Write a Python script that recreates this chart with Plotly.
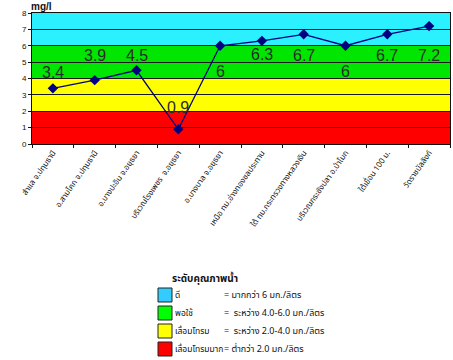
import plotly.graph_objects as go

stations = ["สำแล จ.ปทุมธานี", "อ.สามโคก จ.ปทุมธานี", "อ.บางปะอิน จ.อยุธยา",
            "บริเวณโรงเพชร  จ.อยุธยา", "อ.บางบาล จ.อยุธยา", "เหนือ ทม.อ่างทองชลประทาน",
            "ใต้ ทม.กระทรวงทางหลวงเงิน", "บริเวณกระชังปลา อ.ป่าโมก", "ใต้เขื่อน 100 ม.",
            "วัดราชบัลลังก์"]
do_values = [3.4, 3.9, 4.5, 0.9, 6, 6.3, 6.7, 6, 6.7, 7.2]
label_text = ["3.4", "3.9", "4.5", "0.9", "6", "6.3", "6.7", "6", "6.7", "7.2"]
label_shift = [16, 25, 15, 22, -26, -14, -21, -26, -21, -29]  # px, style only

band_edges = [0, 2, 4, 6, 8]
band_colors = ["#ff0000", "#ffff00", "#00e600", "#2af0ff"]

legend_title = "ระดับคุณภาพน้ำ"
legend_names = ["ดี", "พอใช้", "เสื่อมโทรม", "เสื่อมโทรมมาก"]
legend_desc = ["= มากกว่า 6 มก./ลิตร", "=  ระหว่าง 4.0-6.0 มก./ลิตร",
               "=  ระหว่าง 2.0-4.0 มก./ลิตร", "= ต่ำกว่า 2.0 มก./ลิตร"]
legend_colors = ["#33ccff", "#00ff00", "#ffff00", "#ff0000"]

W, H = 453, 360
PW, PH = 418.0, 131.0
L, T = 32.0, 13.0

fig = go.Figure()
fig.add_trace(go.Scatter(
    x=stations, y=do_values, mode="lines+markers",
    line=dict(color="#000080", width=1.3),
    marker=dict(symbol="diamond", size=8, color="#000080"),
    hoverinfo="skip", showlegend=False))

shapes = []
for i, c in enumerate(band_colors):
    shapes.append(dict(type="rect", xref="paper", yref="y", x0=0, x1=1,
                       y0=band_edges[i], y1=band_edges[i + 1],
                       fillcolor=c, line=dict(width=0), layer="below"))

annotations = []
for s, v, t, sh in zip(stations, do_values, label_text, label_shift):
    annotations.append(dict(x=s, y=v, text=t, showarrow=False, yshift=sh,
                            font=dict(family="Liberation Sans Narrow, Arial Narrow, Liberation Sans, sans-serif",
                                      size=16, color="#2a2a2a")))

def px(x):
    return (x - L) / PW
def py(y):
    return (T + PH - y) / PH

annotations.append(dict(xref="paper", yref="paper", x=px(41), y=py(6), xanchor="center",
                        yanchor="middle", text="<b>mg/l</b>", showarrow=False,
                        font=dict(family="Liberation Sans, Arial, sans-serif", size=10, color="#111")))

thai = "Noto Sans Thai, Tahoma, Noto Sans, sans-serif"
annotations.append(dict(xref="paper", yref="paper", x=px(170), y=py(279), xanchor="left",
                        yanchor="middle", text="<b>" + legend_title + "</b>", showarrow=False,
                        font=dict(family=thai, size=10, color="#111")))
row_y = [295, 313, 331, 349]
for name, desc, col, ry in zip(legend_names, legend_desc, legend_colors, row_y):
    shapes.append(dict(type="rect", xref="paper", yref="paper",
                       x0=px(158), x1=px(172), y0=py(ry + 7), y1=py(ry - 7),
                       fillcolor=col, line=dict(color="#222", width=1)))
    annotations.append(dict(xref="paper", yref="paper", x=px(173), y=py(ry), xanchor="left",
                            yanchor="middle", text=name, showarrow=False,
                            font=dict(family=thai, size=8.5, color="#111")))
    annotations.append(dict(xref="paper", yref="paper", x=px(222), y=py(ry), xanchor="left",
                            yanchor="middle", text=desc, showarrow=False,
                            font=dict(family=thai, size=9, color="#111")))

fig.update_layout(
    width=W, height=H,
    margin=dict(l=L, r=W - L - PW, t=T, b=H - T - PH, autoexpand=False),
    paper_bgcolor="white", plot_bgcolor="white",
    shapes=shapes, annotations=annotations,
    xaxis=dict(type="category", tickson="boundaries", tickangle=-55,
               showgrid=False, showline=True, linecolor="#111", mirror=True,
               ticks="outside", ticklen=3, tickcolor="#111",
               tickfont=dict(family=thai, size=8, color="#111"),
               range=[-0.5, 9.5]),
    yaxis=dict(range=[0, 8], dtick=1, showgrid=True, gridcolor="#1a1a1a", gridwidth=1,
               showline=True, linecolor="#111", mirror=True, zeroline=False,
               ticks="outside", ticklen=3, tickcolor="#111",
               tickfont=dict(family="Liberation Sans, Arial, sans-serif", size=8, color="#111")),
)

fig.write_html("out.html", config={"displayModeBar": False},
               post_script="document.body.style.margin='0px';")
